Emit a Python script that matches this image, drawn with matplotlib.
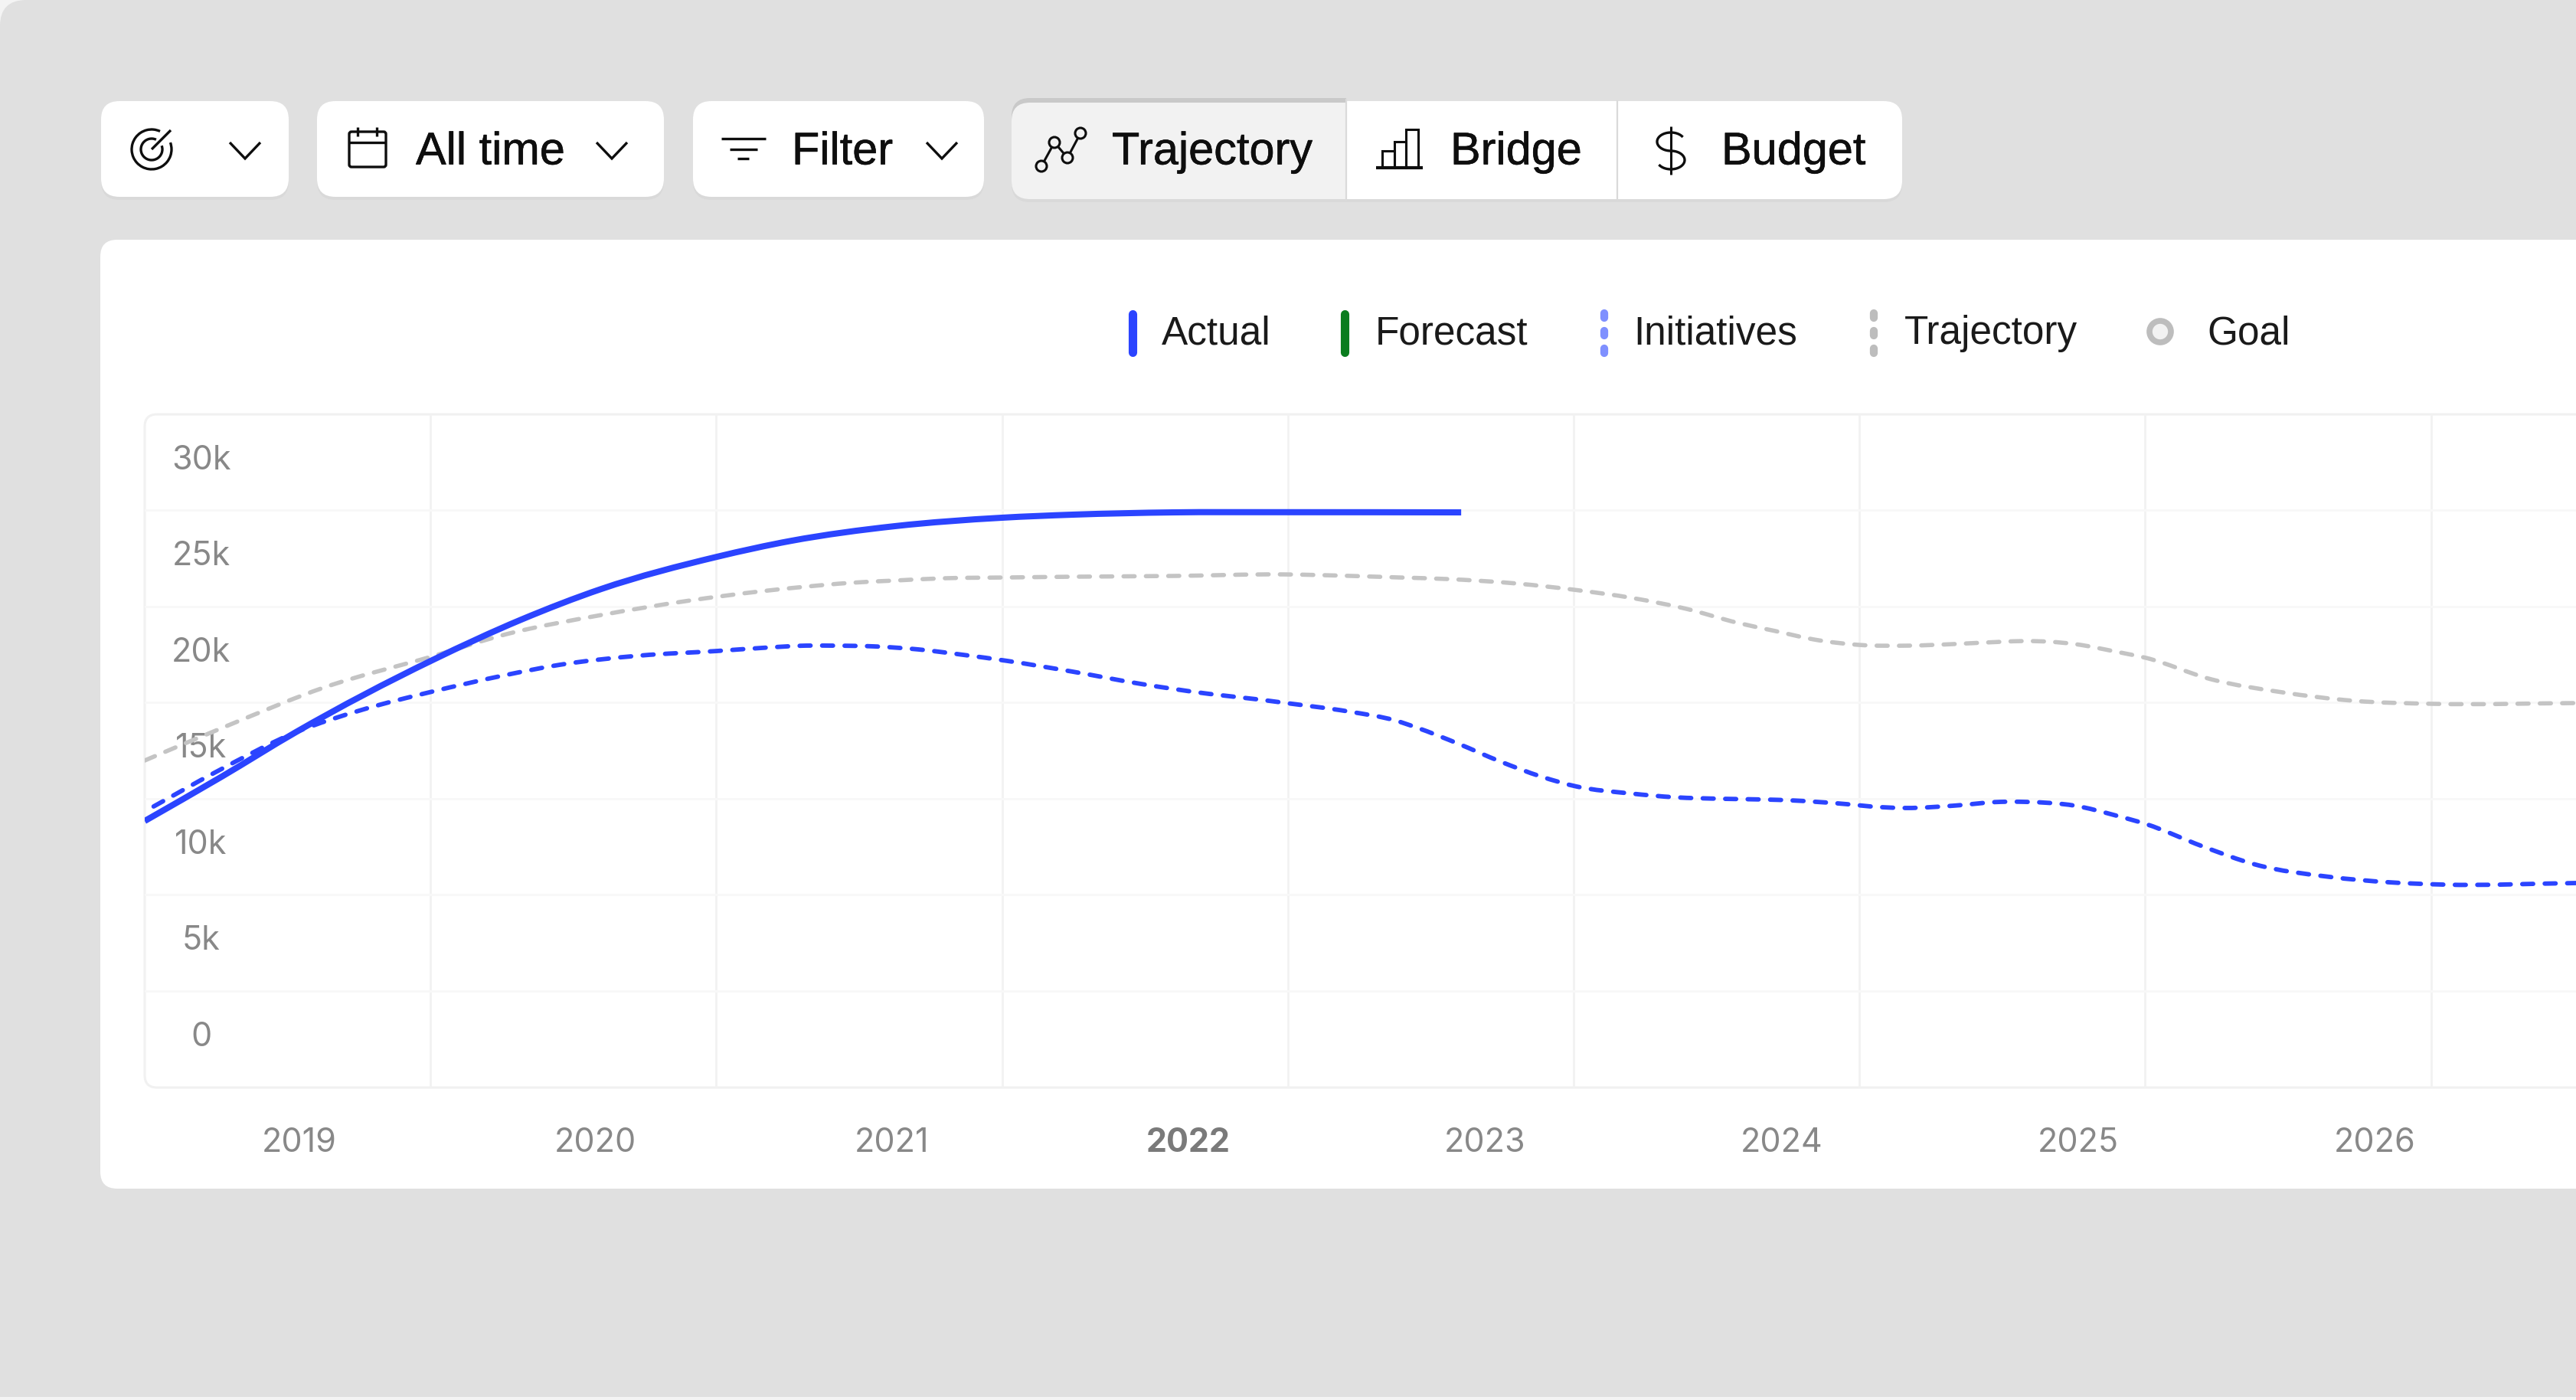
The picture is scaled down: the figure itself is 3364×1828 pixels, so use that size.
import matplotlib
matplotlib.use('Agg')
import matplotlib.pyplot as plt
import matplotlib.patheffects as pe
import numpy as np
from matplotlib.patches import FancyBboxPatch, Rectangle, Circle, Arc, PathPatch
from matplotlib.path import Path

W, H = 3364, 1828

# values
year_labels = ['2019', '2020', '2021', '2022', '2023', '2024', '2025', '2026']
year_ticks = [2019, 2020, 2021, 2022, 2023, 2024, 2025, 2026]
value_ticks = [0, 5000, 10000, 15000, 20000, 25000, 30000]
value_labels = ['0', '5k', '10k', '15k', '20k', '25k', '30k']

actual_x = [2018.48, 2018.74, 2018.99, 2019.45, 2019.75, 2020.02, 2020.41, 2020.66,
            2021.01, 2021.37, 2021.61, 2021.95, 2022.3, 2022.92]
actual_y = [11076, 13386, 15700, 19442, 21553, 23147, 24820, 25650,
            26414, 26852, 27012, 27131, 27140, 27131]

initiatives_x = [2018.51, 2018.72, 2018.99, 2019.22, 2019.45, 2019.69, 2019.88, 2020.15, 2020.41, 2020.56,
                 2020.71, 2020.79, 2020.94, 2021.09, 2021.24, 2021.39, 2021.61, 2021.84, 2022.07, 2022.23,
                 2022.33, 2022.54, 2022.70, 2022.77, 2022.91, 2023.05, 2023.19, 2023.31, 2023.49, 2023.64,
                 2023.80, 2023.95, 2024.03, 2024.19, 2024.34, 2024.42, 2024.58, 2024.74, 2024.82, 2024.99,
                 2025.13, 2025.23, 2025.42, 2025.60, 2025.85, 2026.05, 2026.23, 2026.68]
initiatives_y = [11832, 13625, 15697, 16892, 17808, 18645, 19203, 19681, 19920, 20079,
                 20199, 20199, 20159, 20000, 19721, 19402, 18844, 18207, 17689, 17410,
                 17211, 16773, 16295, 15936, 15099, 14183, 13386, 12868, 12510, 12311,
                 12231, 12191, 12151, 11992, 11793, 11753, 11872, 12072, 12072, 11872,
                 11354, 10916, 9761, 8805, 8167, 7888, 7769, 7848]

trajectory_x = [2018.48, 2018.75, 2019.09, 2019.45, 2019.70, 2020.02, 2020.32, 2020.56, 2020.71, 2020.86,
                2021.01, 2021.18, 2021.39, 2021.61, 2021.95, 2022.32, 2022.55, 2022.71, 2022.87, 2023.11,
                2023.30, 2023.50, 2023.68, 2023.85, 2023.98, 2024.11, 2024.26, 2024.43, 2024.58, 2024.74,
                2024.82, 2024.99, 2025.13, 2025.23, 2025.45, 2025.69, 2025.93, 2026.20, 2026.68]
trajectory_y = [14223, 15976, 18048, 19641, 20796, 21792, 22549, 23028, 23267, 23466,
                23585, 23705, 23745, 23784, 23824, 23904, 23824, 23745, 23665, 23426,
                23107, 22669, 22111, 21394, 20956, 20518, 20239, 20199, 20279, 20398,
                20438, 20279, 19880, 19561, 18446, 17769, 17330, 17171, 17211]

BLUE = '#2B44FF'
GREY_LINE = '#C4C4C4'
BLACK = '#0E0E0E'
TICK = '#888888'
UI_FONT = ['Liberation Sans', 'DejaVu Sans']
plt.rcParams['font.family'] = ['Inter', 'DejaVu Sans']

fig = plt.figure(figsize=(W / 100, H / 100), dpi=100, facecolor='#F4F4F4')

# page chrome in pixel coordinates
bg = fig.add_axes([0, 0, 1, 1])
bg.set_xlim(0, W)
bg.set_ylim(H, 0)
bg.axis('off')


def rbox(x0, y0, x1, y1, r, color, z=1, ec='none', lw=0):
    p = FancyBboxPatch((x0 + r, y0 + r), x1 - x0 - 2 * r, y1 - y0 - 2 * r,
                       boxstyle='round,pad=%g,rounding_size=%g' % (r, r),
                       fc=color, ec=ec, lw=lw, zorder=z)
    bg.add_patch(p)
    return p


def icon(xs, ys, lw=2.4, color=BLACK, z=5):
    bg.plot(xs, ys, color=color, lw=lw, solid_capstyle='butt', solid_joinstyle='miter', zorder=z)


def chevron(cx):
    icon([cx - 20, cx, cx + 20], [186, 207, 186], lw=2.4)


def smooth_path(xs, ys):
    # bezier through the read points, so the corners between them do not show
    x = np.array(xs, float)
    y = np.array(ys, float)
    m = np.gradient(y, x)
    verts = [(x[0], y[0])]
    codes = [Path.MOVETO]
    for i in range(len(x) - 1):
        h = (x[i + 1] - x[i]) / 3
        verts += [(x[i] + h, y[i] + m[i] * h), (x[i + 1] - h, y[i + 1] - m[i + 1] * h), (x[i + 1], y[i + 1])]
        codes += [Path.CURVE4] * 3
    return Path(verts, codes)


rbox(0, 0, W + 100, 1900, 34, '#E0E0E0')
bg.add_patch(Rectangle((0, 1824), W, 10, fc='#F4F4F4', ec='none', zorder=1.1))
rbox(131, 313, W + 100, 1552, 22, 'white', z=1.2)

# toolbar
for x0, x1 in [(132, 377), (414, 867), (905, 1285)]:
    rbox(x0, 135, x1, 261, 24, '#D9D9D9', z=1.2)
    rbox(x0, 132, x1, 257, 24, 'white', z=2)

rbox(1321, 135, 2484, 264, 24, '#D9D9D9', z=1.2)
rbox(1321, 132, 2484, 260, 24, 'white', z=2)
clip = Rectangle((1321, 120), 437, 150, transform=bg.transData)
top = rbox(1321, 128, 1800, 260, 24, '#C9C9C9', z=3)
top.set_clip_path(clip)
sel = rbox(1321, 134, 1800, 260, 24, '#F2F2F2', z=3)
sel.set_clip_path(clip)
bg.plot([1758, 1758], [130, 262], color='#DADADA', lw=1.6, zorder=4)
bg.plot([2112, 2112], [132, 260], color='#DADADA', lw=1.6, zorder=4)

for s, x in [('All time', 543), ('Filter', 1034), ('Trajectory', 1452), ('Bridge', 1894), ('Budget', 2248)]:
    t = bg.text(x, 193, s, fontsize=42.8, color=BLACK, ha='left', va='center_baseline', zorder=6, family=UI_FONT)
    t.set_path_effects([pe.withStroke(linewidth=0.4, foreground=BLACK)])

for cx in [320, 799, 1230]:
    chevron(cx)

# target icon
bg.add_patch(Arc((198, 195), 52, 52, theta1=-20, theta2=295, ec=BLACK, lw=2.4, zorder=5))
bg.add_patch(Arc((198, 195), 28, 28, theta1=-20, theta2=295, ec=BLACK, lw=2.4, zorder=5))
icon([198, 223], [195, 170])

# calendar icon
bg.add_patch(FancyBboxPatch((458, 174), 44, 42, boxstyle='round,pad=2,rounding_size=3',
                            fc='none', ec=BLACK, lw=2.4, zorder=5))
icon([456, 504], [186, 186])
icon([467, 467], [166, 178])
icon([492, 492], [166, 178])

# filter icon
icon([942, 1000], [181, 181])
icon([953, 989], [195, 195])
icon([963, 978], [207, 207])

# trajectory icon
tx = [1360, 1377, 1394, 1411]
ty = [217, 186, 206, 174]
icon(tx, ty, lw=2.2)
for a, b in zip(tx, ty):
    bg.add_patch(Circle((a, b), 7, fc='#F2F2F2', ec=BLACK, lw=2.2, zorder=6))

# bars icon
for x0, x1, y0 in [(1805, 1821, 197), (1821, 1836, 185), (1836, 1852, 169)]:
    bg.add_patch(Rectangle((x0, y0), x1 - x0, 219 - y0, fc='none', ec=BLACK, lw=2.2, zorder=5))
icon([1797, 1858], [219, 219], lw=3)

# dollar icon
a = np.radians(np.linspace(30, 270, 40))
sx = np.r_[2182 + 18 * np.cos(a), 2182 - 18 * np.cos(a)[::-1][1:]]
sy = np.r_[185 - 12 * np.sin(a), 209 + 12 * np.sin(a)[::-1][1:]]
icon(sx, sy, lw=2.4)
icon([2182, 2182], [165, 228], lw=2.2)

# legend
bg.plot([1479, 1479], [410, 460], color=BLUE, lw=8, solid_capstyle='round', zorder=5)
bg.plot([1756, 1756], [410, 460], color='#0A7D1E', lw=8, solid_capstyle='round', zorder=5)
for x, c in [(2095, '#7F90FF'), (2447, '#BDBDBD')]:
    for y in [412, 435, 458]:
        bg.plot([x, x], [y - 3, y + 3], color=c, lw=7.4, solid_capstyle='round', zorder=5)
bg.add_patch(Circle((2821, 433), 14, fc='#F2F2F2', ec='#BDBDBD', lw=5.5, zorder=5))
for s, x in [('Actual', 1517), ('Forecast', 1796), ('Initiatives', 2133), ('Trajectory', 2487), ('Goal', 2882)]:
    bg.text(x, 430, s, fontsize=37, color='#1A1A1A', ha='left', va='center_baseline', zorder=6, family=UI_FONT)

# plot frame
rbox(189, 541, W + 100, 1420, 16, 'none', z=2, ec='#F1F1F1', lw=2.2)

# the chart itself
ax = fig.add_axes([189 / W, 1 - 1420 / H, (W - 189) / W, (1420 - 541) / H])
ax.patch.set_alpha(0)
for sp in ax.spines.values():
    sp.set_visible(False)
ax.set_xlim(2018.48, 2026.68)
ax.set_ylim(-2789, 32231)
ax.set_axisbelow(True)

ax.set_xticks(year_ticks)
ax.set_xticklabels(year_labels, fontsize=31, color=TICK)
ax.set_yticks(value_ticks)
ax.set_yticklabels(value_labels, fontsize=31, color=TICK)
ax.tick_params(axis='both', which='major', length=0)
ax.tick_params(axis='x', pad=37.5)
ax.tick_params(axis='y', pad=-53)
for lab in ax.get_yticklabels():
    lab.set_ha('center')
bold = ax.get_xticklabels()[year_labels.index('2022')]
bold.set_fontweight('bold')
bold.set_color('#7A7A7A')

# grid bands sit off the labelled positions in the original
ax.set_xticks([2019.444 + i * 373 / 387 for i in range(8)], minor=True)
ax.set_yticks([2250 + i * 5000 for i in range(6)], minor=True)
ax.tick_params(which='minor', length=0)
ax.grid(True, which='minor', axis='x', color='#F2F2F2', lw=2)
ax.grid(True, which='minor', axis='y', color='#F8F8F8', lw=2)

ax.add_patch(PathPatch(smooth_path(trajectory_x, trajectory_y), fill=False, ec=GREY_LINE, lw=4.0,
                       linestyle=(0, (2.6, 2.65)), capstyle='round', joinstyle='round', zorder=3))
ax.add_patch(PathPatch(smooth_path(initiatives_x, initiatives_y), fill=False, ec=BLUE, lw=4.2,
                       linestyle=(0, (2.43, 2.6)), capstyle='round', joinstyle='round', zorder=3.1))
ax.add_patch(PathPatch(smooth_path(actual_x, actual_y), fill=False, ec=BLUE, lw=5.8,
                       capstyle='butt', joinstyle='round', zorder=3.2))

fig.savefig('out.png', dpi=100, facecolor=fig.get_facecolor())
